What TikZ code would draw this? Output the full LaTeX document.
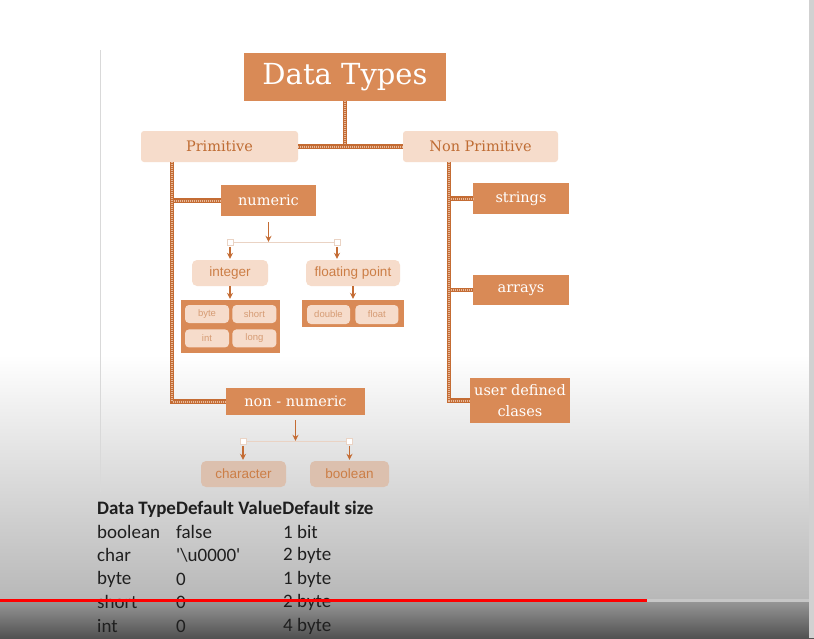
\documentclass[tikz,border=0pt]{standalone}
\usepackage{fontspec}
\setmainfont{DejaVu Serif}
\setsansfont{Liberation Sans}
\newfontfamily\tablefont{Carlito}
\usetikzlibrary{arrows.meta,positioning,calc}

\definecolor{dtorange}{HTML}{D98A56}
\definecolor{dtline}{HTML}{C46C34}
\definecolor{dtpeach}{HTML}{F6DCCB}
\definecolor{dtdim}{HTML}{DCC0AE}
\definecolor{dttext}{HTML}{BF6C33}
\definecolor{dtleaftext}{HTML}{CC7E46}
\definecolor{dtchiptext}{HTML}{D69C74}
\definecolor{dttwig}{HTML}{EAD3C4}
\definecolor{bglow}{gray}{0.72}

\begin{document}
\begin{tikzpicture}[x=1pt, y=-1pt,
  head/.style={fill=dtorange, text=white, font=\fontsize{29}{32}\selectfont, minimum width=202pt, minimum height=48pt, inner sep=0pt},
  cat/.style={fill=dtpeach, text=dttext, rounded corners=3pt, font=\fontsize{14.5}{16}\selectfont, minimum height=31pt, inner sep=0pt},
  sub/.style={fill=dtorange, text=white, font=\fontsize{14.5}{21}\selectfont, align=center, inner sep=0pt},
  leaf/.style={fill=dtpeach, text=dtleaftext, rounded corners=5pt, font=\sffamily\fontsize{13.5}{15}\selectfont, minimum height=26pt, inner sep=0pt},
  grp/.style={fill=dtorange, inner sep=0pt},
  chip/.style={fill=dtpeach, text=dtchiptext, rounded corners=4pt, font=\sffamily\fontsize{9.5}{11}\selectfont, minimum height=18pt, inner sep=0pt},
  trunk/.style={draw=dtline, line width=4.5pt, postaction={draw=dtorange!60!white, line width=2pt, dash pattern=on 1pt off 1pt}},
  twig/.style={draw=dttwig, line width=1pt},
  sq/.style={draw=dttwig, fill=white, minimum size=6pt, inner sep=0pt, line width=0.8pt},
  arr/.style={-{Stealth[length=6pt,width=6pt]}, draw=dtline, line width=1.3pt, shorten >=1pt},
  cell/.style={anchor=west, inner sep=0pt, font=\tablefont\fontsize{19}{22}\selectfont, text=black!88}
]
% background of the frame
\useasboundingbox (0,0) rectangle (814,638);
\fill[white] (0,0) rectangle (814,638);
\shade[top color=white, bottom color=bglow] (0,355) rectangle (814,600);
\shade[top color=black!40, bottom color=black!68] (0,600) rectangle (814,638);
\fill[black!18] (809,0) rectangle (814,638);
\draw[black!15, line width=0.8pt] (100,50) -- (100,492);

% tree
\node[head] (title) at (345,77) {Data Types};
\node[cat, minimum width=157pt] (prim) at (219.5,146.5) {Primitive};
\node[cat, minimum width=155pt] (nonprim) at (480.5,146.5) {Non Primitive};

\node[sub, minimum width=95pt, minimum height=31pt] (numeric) at (268.5,200.5) {numeric};
\node[sub, minimum width=139pt, minimum height=27pt] (nonnum) at (295.5,401.5) {non - numeric};

\node[sub, minimum width=96pt, minimum height=31pt] (strings) at (521,198.5) {strings};
\node[sub, minimum width=96pt, minimum height=30pt] (arrays) at (521,290) {arrays};
\node[sub, minimum width=100pt, minimum height=45pt] (userdef) at (520,400.5) {user defined\\clases};

\draw[trunk] (title.south) -- (title.south |- prim.east);
\draw[trunk] (prim.east) -- (nonprim.west);
\draw[trunk] ([xshift=-47.5pt]prim.south) |- (numeric.west);
\draw[trunk] ([xshift=-47.5pt]prim.south) |- (nonnum.west);
\draw[trunk] ([xshift=-31.5pt]nonprim.south) |- (strings.west);
\draw[trunk] ([xshift=-31.5pt]nonprim.south) |- (arrays.west);
\draw[trunk] ([xshift=-31.5pt]nonprim.south) |- (userdef.west);

% numeric branch
\node[leaf, minimum width=76pt] (integer) at (230,273) {integer};
\node[leaf, minimum width=94pt] (floating) at (353,273) {floating point};
\path (integer.north) ++(0,-17) coordinate (nl);
\path ([xshift=-16pt]floating.north) ++(0,-17) coordinate (nr);
\draw[twig] (nl) -- (nr);
\node[sq] at (nl) {};
\node[sq] at (nr) {};
\draw[arr] ($(numeric.south)+(0,6)$) -- (numeric.south |- nl);
\draw[arr] ($(nl)+(0,4)$) -- (integer.north);
\draw[arr] ($(nr)+(0,4)$) -- (nr |- floating.north);

\node[grp, minimum width=99pt, minimum height=53pt] (intgrp) at (230.5,326.5) {};
\node[chip, minimum width=44pt, anchor=north west] (byte) at ($(intgrp.north west)+(4,5)$) {byte};
\node[chip, minimum width=44pt, right=3pt of byte] (short) {short};
\node[chip, minimum width=44pt, below=6pt of byte] (intc) {int};
\node[chip, minimum width=44pt, right=3pt of intc] (long) {long};

\node[grp, minimum width=102pt, minimum height=27pt] (fltgrp) at (353,313.5) {};
\node[chip, minimum width=43pt, minimum height=19pt, anchor=north west] (double) at ($(fltgrp.north west)+(5,5)$) {double};
\node[chip, minimum width=43pt, minimum height=19pt, right=5pt of double] (float) {float};

\draw[arr] (integer.south) -- (integer.south |- intgrp.north);
\draw[arr] (floating.south) -- (floating.south |- fltgrp.north);

% non-numeric branch
\node[leaf, fill=dtdim, minimum width=85pt] (character) at (243.5,474) {character};
\node[leaf, fill=dtdim, minimum width=79pt] (boolean) at (349.5,474) {boolean};
\path ([xshift=-0.5pt]character.north) ++(0,-19) coordinate (cl);
\path (boolean.north) ++(0,-19) coordinate (cr);
\draw[twig] (cl) -- (cr);
\node[sq] at (cl) {};
\node[sq] at (cr) {};
\draw[arr] ($(nonnum.south)+(0,5)$) -- (nonnum.south |- cl);
\draw[arr] ($(cl)+(0,4)$) -- (cl |- character.north);
\draw[arr] ($(cr)+(0,4)$) -- (boolean.north);

% table of defaults
\node[cell, font=\tablefont\bfseries\fontsize{19}{22}\selectfont] (thead) at (97,509) {Data TypeDefault ValueDefault size};
\foreach \y/\ty/\dv/\ds [count=\i] in {532/boolean/false/1 bit, 555/char/\textquotesingle\textbackslash u0000\textquotesingle/2 byte, 579/byte/0/1 byte, 602/short/0/2 byte, 626/int/0/4 byte}{
  \node[cell] (ty\i) at (97,\y) {\ty};
  \node[cell] (dv\i) at (176,\y) {\dv};
  \node[cell] (ds\i) at (283,\y) {\ds};
}

% progress bar
\fill[red] (0,598.5) rectangle (647,602);
\fill[black!22] (647,599) rectangle (809,601.5);
\end{tikzpicture}
\end{document}
